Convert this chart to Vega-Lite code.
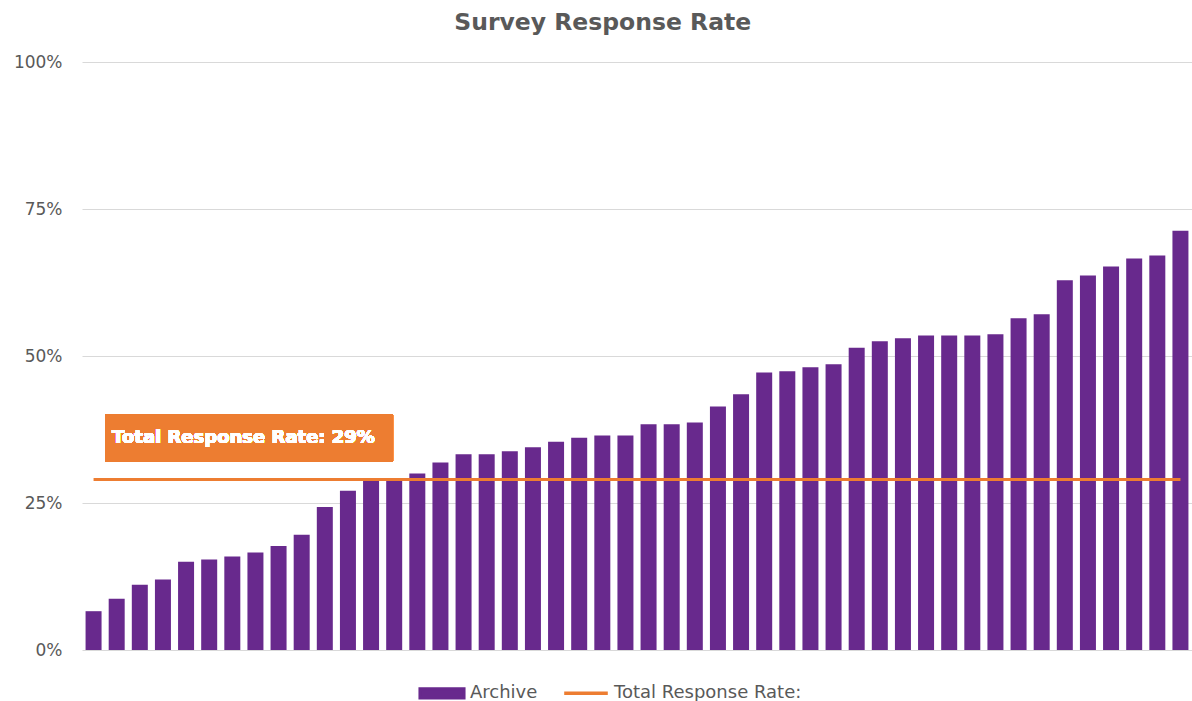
{
  "$schema": "https://vega.github.io/schema/vega-lite/v6.json",
  "width": 1110,
  "height": 588,
  "autosize": {"type": "none"},
  "padding": {"left": 82, "top": 62, "right": 0, "bottom": 51},
  "background": "white",
  "config": {
    "view": {"stroke": null}
  },
  "title": {
    "text": "Survey Response Rate",
    "font": "DejaVu Sans",
    "fontSize": 23.5,
    "fontWeight": "bold",
    "color": "#595959",
    "anchor": "middle",
    "frame": "bounds",
    "offset": 19
  },
  "data": {
    "values": [
      {"id": 1, "rate": 0.066, "total": 0.29},
      {"id": 2, "rate": 0.087, "total": 0.29},
      {"id": 3, "rate": 0.111, "total": 0.29},
      {"id": 4, "rate": 0.120, "total": 0.29},
      {"id": 5, "rate": 0.150, "total": 0.29},
      {"id": 6, "rate": 0.154, "total": 0.29},
      {"id": 7, "rate": 0.159, "total": 0.29},
      {"id": 8, "rate": 0.166, "total": 0.29},
      {"id": 9, "rate": 0.177, "total": 0.29},
      {"id": 10, "rate": 0.196, "total": 0.29},
      {"id": 11, "rate": 0.243, "total": 0.29},
      {"id": 12, "rate": 0.271, "total": 0.29},
      {"id": 13, "rate": 0.289, "total": 0.29},
      {"id": 14, "rate": 0.288, "total": 0.29},
      {"id": 15, "rate": 0.300, "total": 0.29},
      {"id": 16, "rate": 0.319, "total": 0.29},
      {"id": 17, "rate": 0.333, "total": 0.29},
      {"id": 18, "rate": 0.333, "total": 0.29},
      {"id": 19, "rate": 0.338, "total": 0.29},
      {"id": 20, "rate": 0.345, "total": 0.29},
      {"id": 21, "rate": 0.354, "total": 0.29},
      {"id": 22, "rate": 0.361, "total": 0.29},
      {"id": 23, "rate": 0.365, "total": 0.29},
      {"id": 24, "rate": 0.365, "total": 0.29},
      {"id": 25, "rate": 0.384, "total": 0.29},
      {"id": 26, "rate": 0.384, "total": 0.29},
      {"id": 27, "rate": 0.387, "total": 0.29},
      {"id": 28, "rate": 0.414, "total": 0.29},
      {"id": 29, "rate": 0.435, "total": 0.29},
      {"id": 30, "rate": 0.472, "total": 0.29},
      {"id": 31, "rate": 0.474, "total": 0.29},
      {"id": 32, "rate": 0.481, "total": 0.29},
      {"id": 33, "rate": 0.486, "total": 0.29},
      {"id": 34, "rate": 0.514, "total": 0.29},
      {"id": 35, "rate": 0.525, "total": 0.29},
      {"id": 36, "rate": 0.530, "total": 0.29},
      {"id": 37, "rate": 0.535, "total": 0.29},
      {"id": 38, "rate": 0.535, "total": 0.29},
      {"id": 39, "rate": 0.535, "total": 0.29},
      {"id": 40, "rate": 0.537, "total": 0.29},
      {"id": 41, "rate": 0.564, "total": 0.29},
      {"id": 42, "rate": 0.571, "total": 0.29},
      {"id": 43, "rate": 0.629, "total": 0.29},
      {"id": 44, "rate": 0.637, "total": 0.29},
      {"id": 45, "rate": 0.652, "total": 0.29},
      {"id": 46, "rate": 0.666, "total": 0.29},
      {"id": 47, "rate": 0.671, "total": 0.29},
      {"id": 48, "rate": 0.713, "total": 0.29}
    ]
  },
  "layer": [
    {
      "mark": {"type": "bar", "size": 16},
      "encoding": {
        "x": {"field": "id", "type": "quantitative", "scale": {"domain": [0.5, 48.5], "nice": false, "zero": false, "padding": 0}, "axis": null},
        "y": {
          "field": "rate",
          "type": "quantitative",
          "scale": {"domain": [0, 1], "nice": false},
          "axis": {
            "values": [0, 0.25, 0.5, 0.75, 1],
            "format": ".0%",
            "title": null,
            "domain": false,
            "ticks": false,
            "labelPadding": 20,
            "labelFont": "DejaVu Sans",
            "labelFontSize": 17,
            "labelColor": "#595959",
            "gridColor": "#D9D9D9",
            "gridWidth": 1
          }
        },
        "color": {
          "datum": "Archive",
          "type": "nominal",
          "scale": {"domain": ["Archive", "Total Response Rate:"], "range": ["#68298D", "#ED7D31"]},
          "legend": {
            "orient": "none",
            "legendX": 336,
            "legendY": 607,
            "direction": "horizontal",
            "title": null,
            "symbolSize": 1900,
            "labelFont": "DejaVu Sans",
            "labelFontSize": 18,
            "labelColor": "#595959",
            "labelOffset": 4,
            "labelLimit": 0,
            "columnPadding": 19,
            "encode": {
              "symbols": {
                "update": {
                  "shape": {"signal": "datum.value === 'Archive' ? 'M-1,-0.2H1V0.2H-1Z' : 'M-1,-0.2H-1M-1,0H1M1,0.2H1'"},
                  "fill": {"signal": "datum.value === 'Archive' ? '#68298D' : 'transparent'"},
                  "stroke": {"signal": "datum.value === 'Archive' ? 'transparent' : '#F0913F'"},
                  "strokeWidth": {"value": 3.5},
                  "strokeCap": {"value": "butt"},
                  "opacity": {"value": 1},
                  "fillOpacity": {"value": 1}
                }
              }
            }
          }
        }
      }
    },
    {
      "mark": {"type": "line", "strokeWidth": 3},
      "encoding": {
        "x": {"field": "id", "type": "quantitative"},
        "y": {"field": "total", "type": "quantitative"},
        "color": {"datum": "Total Response Rate:", "type": "nominal"}
      }
    },
    {
      "mark": {"type": "rect", "color": "#ED7D31"},
      "encoding": {
        "x": {"datum": 1.495, "type": "quantitative"},
        "x2": {"datum": 13.95},
        "y": {"datum": 0.401, "type": "quantitative"},
        "y2": {"datum": 0.32}
      }
    },
    {
      "mark": {"type": "text", "align": "left", "baseline": "middle", "color": "white", "font": "DejaVu Sans", "fontWeight": "bold", "fontSize": 18},
      "encoding": {
        "x": {"datum": 1.8, "type": "quantitative"},
        "y": {"datum": 0.3605, "type": "quantitative"},
        "text": {"value": "Total Response Rate: 29%"}
      }
    }
  ]
}
